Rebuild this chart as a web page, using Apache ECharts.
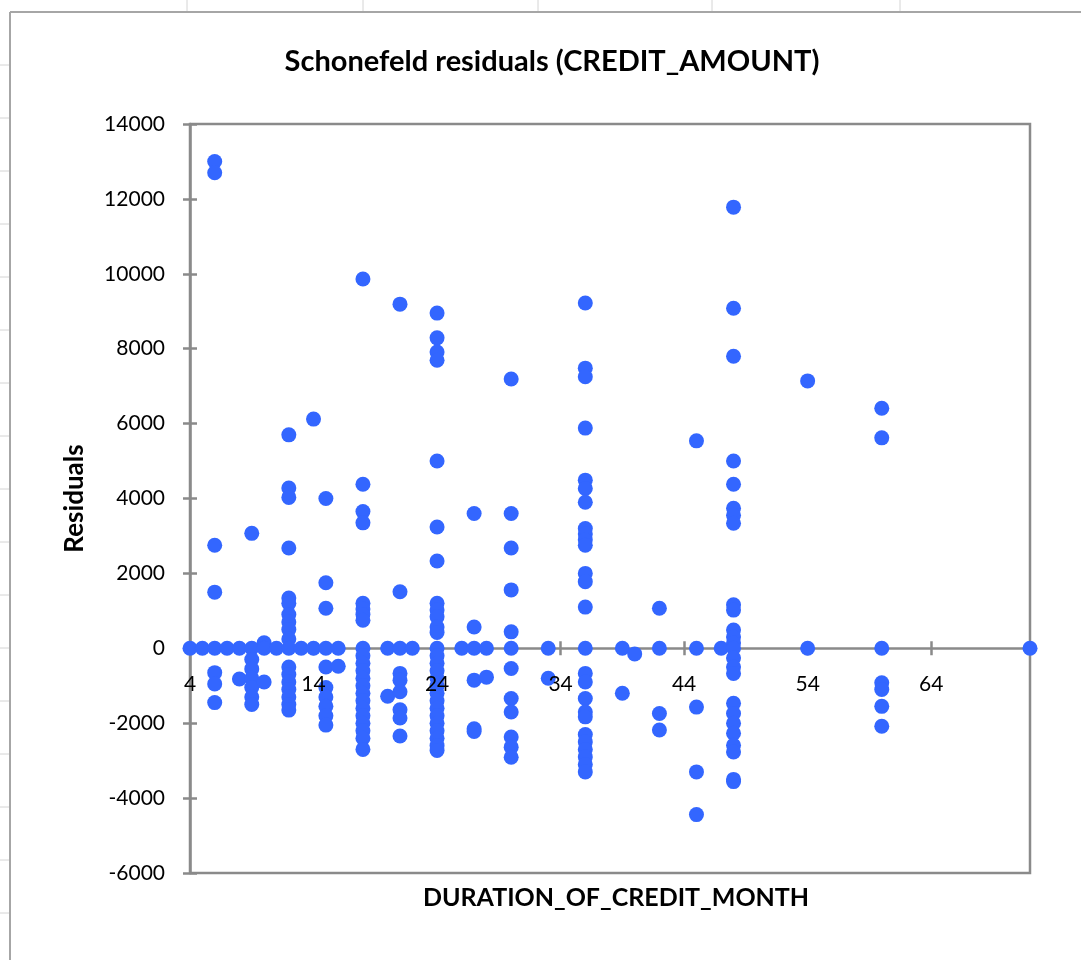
<!DOCTYPE html>
<html>
<head>
<meta charset="utf-8">
<script src="https://cdn.jsdelivr.net/npm/echarts@6/dist/echarts.min.js"></script>
<style>
html,body{margin:0;padding:0;background:#fff;}
#chart{width:1081px;height:960px;}
</style>
</head>
<body>
<div id="chart"></div>
<script>
// ---- data ----
const chartTitle = 'Schonefeld residuals (CREDIT_AMOUNT)';
const xAxisTitle = 'DURATION_OF_CREDIT_MONTH';
const yAxisTitle = 'Residuals';

const months = [4, 5, 6, 7, 8, 9, 10, 11, 12, 13, 14, 15, 16, 18, 20, 21, 22, 24, 26, 27, 28, 30, 33, 36, 39, 40, 42, 45, 47, 48, 54, 60, 72];

const residualsByMonth = [
  [0],
  [0],
  [13000, 12700, 2750, 1500, 0, -650, -950, -1450],
  [0],
  [0, -820],
  [3070, 0, -300, -550, -800, -1050, -1300, -1500],
  [150, 0, -900],
  [0],
  [5700, 4280, 4030, 2680, 1340, 1200, 900, 700, 500, 250, 0, -500, -700, -900, -1100, -1300, -1500, -1650],
  [0],
  [6120, 0],
  [4000, 1750, 1070, 0, -500, -1050, -1300, -1550, -1800, -2050],
  [0, -480],
  [9860, 4380, 3650, 3350, 1200, 1050, 900, 750, 0, -200, -400, -600, -800, -1000, -1200, -1400, -1600, -1800, -2000, -2200, -2400, -2700],
  [0, -1280],
  [9190, 1510, 0, -670, -850, -1160, -1640, -1860, -2340],
  [0],
  [8950, 8290, 7910, 7690, 5000, 3240, 2330, 1200, 1020, 840, 570, 420, 0, -200, -400, -600, -800, -1000, -1200, -1400, -1600, -1800, -2000, -2200, -2400, -2600, -2730],
  [0],
  [3600, 570, 0, -850, -2150, -2220],
  [0, -770],
  [7190, 3600, 2680, 1560, 440, 0, -540, -1340, -1700, -2370, -2640, -2910],
  [0, -800],
  [9220, 7480, 7250, 5880, 4490, 4270, 3900, 3200, 3050, 2900, 2750, 2000, 1780, 1100, 0, -670, -900, -1340, -1700, -1830, -2300, -2500, -2700, -2900, -3100, -3300],
  [0, -1200],
  [-150],
  [1070, 0, -1740, -2180],
  [5540, 0, -1570, -3300, -4440],
  [0],
  [11780, 9080, 7800, 5000, 4380, 3740, 3550, 3340, 1160, 1020, 490, 300, 140, 0, -260, -500, -670, -1470, -1740, -2000, -2270, -2590, -2770, -3500, -3560],
  [7140, 0],
  [6410, 5620, 0, -920, -1100, -1550, -2080],
  [0]
];

const xMin = 4, xMax = 72, xStep = 10;
const yMin = -6000, yMax = 14000, yStep = 2000;

// ---- build ----
const points = [];
months.forEach((m, i) => residualsByMonth[i].forEach(v => points.push([m, v])));

const axisGray = '#8a8a8a';
const font = 'Lato, "Open Sans", sans-serif';

const gridTop = 124, gridBottom = 87, chartH = 960;
const plotH = chartH - gridTop - gridBottom;
// shift the horizontal axis up so it sits on residual = 0
const zeroOffset = -plotH * (0 - yMin) / (yMax - yMin);

const frame = [];
[187, 363, 538, 712, 900].forEach(x => frame.push({type:'line', shape:{x1:x, y1:0, x2:x, y2:11}, style:{stroke:'#d4d4d4', lineWidth:1}}));
for (let y = 65; y < 960; y += 53) frame.push({type:'line', shape:{x1:0, y1:y, x2:9, y2:y}, style:{stroke:'#d4d4d4', lineWidth:1}});
frame.push({type:'line', shape:{x1:10, y1:12, x2:1081, y2:12}, style:{stroke:'#a6a6a6', lineWidth:2}});
frame.push({type:'line', shape:{x1:10, y1:12, x2:10, y2:960}, style:{stroke:'#a6a6a6', lineWidth:2}});

const xBase = {type: 'value', min: xMin, max: xMax, interval: xStep, position: 'bottom', offset: zeroOffset, splitLine: {show: false}};

const chart = echarts.init(document.getElementById('chart'), null, {renderer:'canvas'});
chart.setOption({
  animation: false,
  backgroundColor: '#fff',
  title: [
    {text: chartTitle, left: 547, top: 42, textAlign: 'center',
     textStyle: {fontFamily: font, fontWeight: 'bold', fontSize: 29, color: '#000'}},
    {text: xAxisTitle, left: 611, top: 880, textAlign: 'center',
     textStyle: {fontFamily: font, fontWeight: 'bold', fontSize: 25, color: '#000'}}
  ],
  graphic: frame,
  grid: {left: 190, right: 51, top: gridTop, bottom: gridBottom, show: true, borderColor: axisGray, borderWidth: 2.5, backgroundColor: 'transparent'},
  xAxis: [
    Object.assign({}, xBase, {z: 1,
     axisLine: {onZero: false, lineStyle: {color: axisGray, width: 2.5}},
     axisTick: {show: true, inside: false, length: 7, lineStyle: {color: axisGray, width: 2.5}},
     axisLabel: {show: false}}),
    Object.assign({}, xBase, {z: 1,
     axisLine: {show: false, onZero: false},
     axisTick: {show: true, inside: true, length: 7, lineStyle: {color: axisGray, width: 2.5}},
     axisLabel: {show: false}}),
    Object.assign({}, xBase, {z: 10,
     axisLine: {show: false, onZero: false},
     axisTick: {show: false},
     axisLabel: {showMaxLabel: false, margin: 25, fontFamily: font, fontSize: 21, color: '#000'}})
  ],
  yAxis: [
    {type: 'value', min: yMin, max: yMax, interval: yStep,
     name: yAxisTitle, nameLocation: 'middle', nameGap: 102, nameRotate: 90,
     nameTextStyle: {fontFamily: font, fontWeight: 'bold', fontSize: 26, color: '#000'},
     axisLine: {onZero: false, lineStyle: {color: axisGray, width: 2.5}},
     axisTick: {show: true, inside: false, length: 7, lineStyle: {color: axisGray, width: 2.5}},
     axisLabel: {margin: 25, fontFamily: font, fontSize: 21, color: '#000', formatter: v => String(v)},
     splitLine: {show: false}},
    {type: 'value', min: yMin, max: yMax, interval: yStep, position: 'left',
     axisLine: {show: false, onZero: false},
     axisTick: {show: true, inside: true, length: 7, lineStyle: {color: axisGray, width: 2.5}},
     axisLabel: {show: false}, splitLine: {show: false}}
  ],
  series: [{
    type: 'scatter',
    data: points,
    symbol: 'circle',
    symbolSize: 15,
    itemStyle: {color: '#3366FF', opacity: 1},
    z: 2
  }]
});
</script>
</body>
</html>
